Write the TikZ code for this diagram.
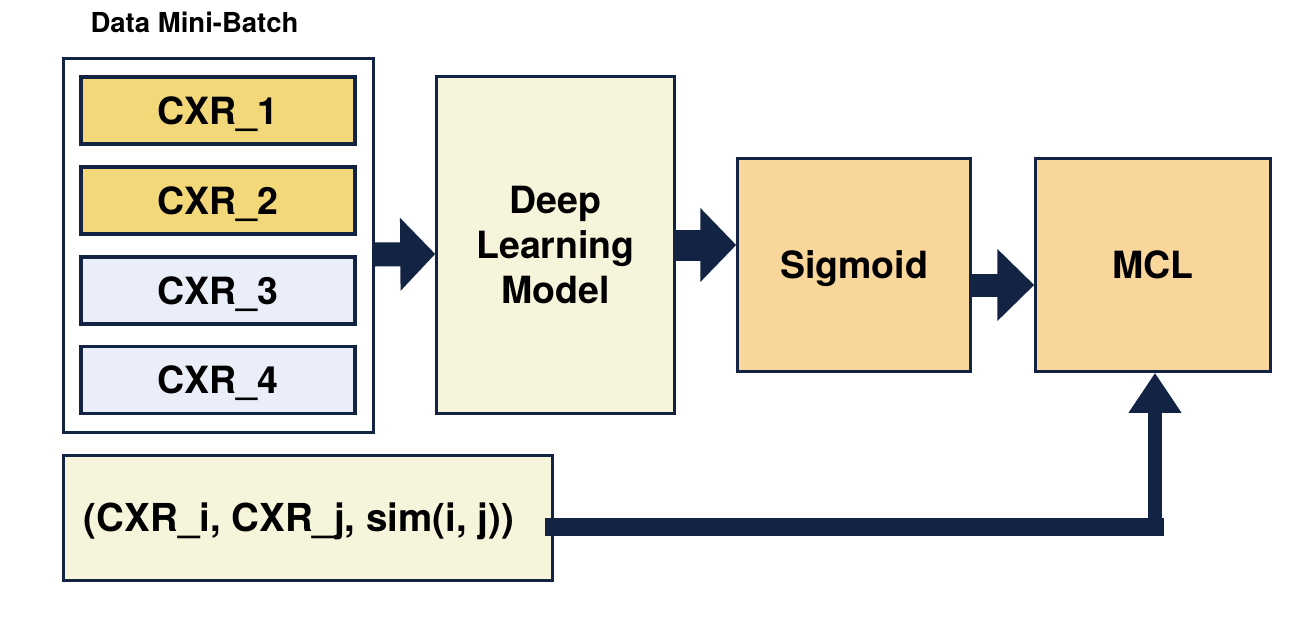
\documentclass[tikz,border=0pt]{standalone}
\usepackage{fontspec}
\setmainfont{TeX Gyre Heros}
\usetikzlibrary{arrows.meta}

\definecolor{navy}{RGB}{18,35,68}
\definecolor{cxrgold}{RGB}{243,216,122}
\definecolor{cxrblue}{RGB}{233,238,248}
\definecolor{cream}{RGB}{247,244,220}
\definecolor{peach}{RGB}{249,214,154}

\begin{document}
\begin{tikzpicture}[x=1pt,y=-1pt,
	box/.style={draw=navy, line width=2.5pt, inner sep=0pt, font=\fontsize{37.5}{45}\selectfont\bfseries, align=center},
	captext/.style={text height=27pt, text depth=0pt},
	cxr/.style={box, captext, line width=3.5pt, minimum width=274pt, minimum height=67pt},
	blockarrow/.style={draw=navy, line width=#1}
]
	\useasboundingbox (0,0) rectangle (1304,632);

	\node[box, minimum width=310pt, minimum height=374pt] (batch) at (218.5,245.5) {};
	\node[anchor=west, font=\fontsize{27.5}{30}\selectfont\bfseries] (title) at (87,22) {Data Mini-Batch};

	\node[cxr, fill=cxrgold] (cxr1) at (218,110.5) {CXR\_1};
	\node[cxr, fill=cxrgold] (cxr2) at (218,200.5) {CXR\_2};
	\node[cxr, fill=cxrblue] (cxr3) at (218,290.5) {CXR\_3};
	\node[cxr, fill=cxrblue] (cxr4) at (218,380) {CXR\_4};

	\node[box, fill=cream, minimum width=238pt, minimum height=337pt] (dl) at (555.5,245) {Deep\\Learning\\Model};
	\node[box, captext, fill=peach, minimum width=233pt, minimum height=213pt] (sig) at (854,265) {Sigmoid};
	\node[box, captext, fill=peach, minimum width=235pt, minimum height=213pt] (mcl) at (1153,265) {MCL};
	\node[box, captext, fill=cream, minimum width=489pt, minimum height=125pt, font=\fontsize{38.5}{45}\selectfont\bfseries] (pairs) at (308,518) {\hspace*{-18pt}(CXR\_i, CXR\_j, sim(i, j))};

	\coordinate (corner) at (1155,527);

	% block arrows
	\draw[blockarrow=24pt, -{Triangle[width=71pt,length=35pt]}] ([yshift=-9pt]batch.east) -- ([yshift=-9pt]dl.west);
	\draw[blockarrow=31pt, -{Triangle[width=72pt,length=36pt]}] (dl.east) -- (dl.east -| sig.west);
	\draw[blockarrow=23pt, -{Triangle[width=70pt,length=37pt]}] ([yshift=-20pt]sig.east) -- ([yshift=-20pt]mcl.west);

	\draw[blockarrow=18pt, line cap=rect] ([yshift=-9pt]pairs.east) -- (corner);
	\draw[blockarrow=14pt, -{Triangle[width=50pt,length=40pt]}] ([yshift=9pt]corner) -- (corner |- mcl.south);
\end{tikzpicture}
\end{document}
